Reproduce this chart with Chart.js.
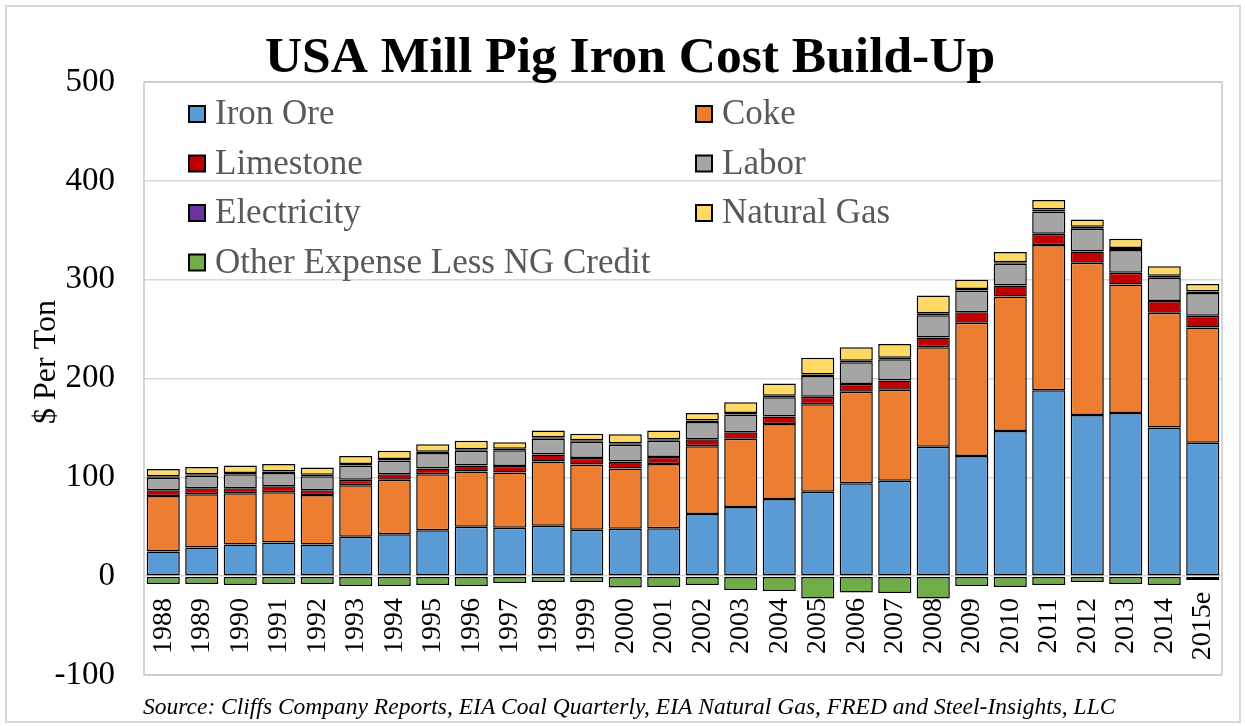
<!DOCTYPE html>
<html>
<head>
<meta charset="utf-8">
<title>USA Mill Pig Iron Cost Build-Up</title>
<script src="https://cdn.jsdelivr.net/npm/chart.js@4/dist/chart.umd.min.js"></script>
<style>
  html, body { margin: 0; padding: 0; background: #fff; }
  #wrap { width: 1245px; height: 726px; }
</style>
</head>
<body>
<div id="wrap"><canvas id="pigIron" width="1245" height="726"></canvas></div>
<script>
// categories
const years = ['1988', '1989', '1990', '1991', '1992', '1993', '1994', '1995', '1996', '1997',
  '1998', '1999', '2000', '2001', '2002', '2003', '2004', '2005', '2006', '2007',
  '2008', '2009', '2010', '2011', '2012', '2013', '2014', '2015e'];

// $ per ton
const ironOre     = [25, 29, 32, 34, 32, 40, 42.5, 46.5, 50, 49, 51, 47, 48, 48.5, 63, 70, 78, 85.5, 94, 96.5, 131, 121.5, 147, 188, 163, 165, 150.5, 135];
const coke        = [56, 54, 52, 51, 50, 52, 55, 56.5, 56, 56, 65, 66, 61, 65, 68.5, 69, 76, 88.5, 92.5, 92, 100.5, 135, 136, 147, 154, 130, 116, 116.5];
const limestone   = [6, 6, 5, 6, 5, 5.5, 5.5, 6, 6, 6.5, 7, 6.5, 7, 7, 7, 6.5, 7.5, 7.5, 8, 9.5, 10, 10.5, 11, 11.5, 11.5, 12, 12, 12];
const labor       = [12.5, 12.5, 14, 13.5, 14, 14.5, 14, 15.5, 15, 16, 16, 16.5, 17, 16.5, 17.5, 18, 19.5, 21, 22, 21.5, 22.5, 22, 22, 22.5, 23, 23, 23.5, 23];
const electricity = [1.5, 1.5, 1.5, 1.5, 1.5, 1.5, 1.5, 1.5, 1.5, 1.5, 1.5, 1.5, 1.5, 1.5, 1.5, 1.5, 1.5, 1.5, 1.5, 1.5, 2, 1.5, 1.5, 2, 2, 2, 2, 1.5];
const naturalGas  = [7.5, 7.5, 7.5, 7.5, 7.5, 8, 8.5, 7.5, 8.5, 6.5, 7, 6.5, 9, 9, 7.5, 11, 12.5, 17, 13.5, 14, 18, 9.5, 10.5, 9.5, 7.5, 9.5, 9.5, 7.5];
const otherLessNG = [-8, -8, -9, -8, -8, -10, -10, -9, -10, -7, -6, -6, -11.5, -11, -9, -14, -15, -22.5, -16.5, -17, -22.5, -10, -11, -9, -6, -8, -9, -4];

// y axis ticks
const yTicks = [-100, 0, 100, 200, 300, 400, 500];

const serif = "'Liberation Serif', 'DejaVu Serif', serif";

function series(label, data, color) {
    return {
        label: label,
        data: data,
        backgroundColor: color,
        borderColor: '#000000',
        borderWidth: 1.5,
        borderSkipped: false,
        barPercentage: 0.86,
        categoryPercentage: 1.0,
        stack: 'cost'
    };
}

// title, axis title, source line, outer frame, plot frame, legend, category labels
const decorations = {
    id: 'decorations',
    beforeDraw(chart) {
        const ctx = chart.ctx;
        ctx.save();
        ctx.strokeStyle = '#D9D9D9';
        ctx.lineWidth = 2;
        ctx.strokeRect(6, 6, 1234, 716);
        ctx.restore();
    },
    beforeDatasetsDraw(chart) {
        const ctx = chart.ctx, a = chart.chartArea;
        ctx.save();
        ctx.strokeStyle = '#C8C8C8';
        ctx.lineWidth = 1.5;
        ctx.strokeRect(a.left, a.top, a.right - a.left, a.bottom - a.top);
        ctx.restore();
    },
    afterDatasetsDraw(chart) {
        const ctx = chart.ctx;
        const x = chart.scales.x;
        ctx.save();
        ctx.fillStyle = '#000000';
        ctx.font = '28px ' + serif;
        ctx.textAlign = 'center';
        ctx.textBaseline = 'middle';
        years.forEach((yr, i) => {
            ctx.save();
            ctx.translate(x.getPixelForValue(i), 626);
            ctx.rotate(-Math.PI / 2);
            ctx.fillText(yr, 0, 0);
            ctx.restore();
        });
        ctx.restore();
    },
    afterDraw(chart) {
        const ctx = chart.ctx;
        ctx.save();
        // title
        ctx.fillStyle = '#000000';
        ctx.textAlign = 'center';
        ctx.textBaseline = 'alphabetic';
        ctx.font = 'bold 51.5px ' + serif;
        ctx.fillText('USA Mill Pig Iron Cost Build-Up', 630, 72);

        // y axis title
        ctx.save();
        ctx.translate(47, 362);
        ctx.rotate(-Math.PI / 2);
        ctx.textBaseline = 'middle';
        ctx.font = '32px ' + serif;
        ctx.fillText('$ Per Ton', 0, 0);
        ctx.restore();

        // source
        ctx.textAlign = 'left';
        ctx.font = 'italic 23.5px ' + serif;
        ctx.fillText('Source: Cliffs Company Reports, EIA Coal Quarterly, EIA Natural Gas, FRED and Steel-Insights, LLC', 143, 714);

        // legend, two columns
        ctx.font = '35px ' + serif;
        ctx.textBaseline = 'middle';
        chart.data.datasets.forEach((ds, i) => {
            const bx = 189 + (i % 2) * 507;
            const cy = 114 + Math.floor(i / 2) * 49.5;
            ctx.fillStyle = ds.backgroundColor;
            ctx.fillRect(bx, cy - 8, 16, 16);
            ctx.strokeStyle = '#000000';
            ctx.lineWidth = 2;
            ctx.strokeRect(bx, cy - 8, 16, 16);
            ctx.fillStyle = '#595959';
            ctx.fillText(ds.label, bx + 26, cy + 1);
        });
        ctx.restore();
    }
};

new Chart(document.getElementById('pigIron'), {
    type: 'bar',
    data: {
        labels: years,
        datasets: [
            series('Iron Ore', ironOre, '#5B9BD5'),
            series('Coke', coke, '#ED7D31'),
            series('Limestone', limestone, '#C00000'),
            series('Labor', labor, '#A5A5A5'),
            series('Electricity', electricity, '#7030A0'),
            series('Natural Gas', naturalGas, '#FFD966'),
            series('Other Expense Less NG Credit', otherLessNG, '#70AD47')
        ]
    },
    options: {
        responsive: false,
        animation: false,
        devicePixelRatio: 1,
        layout: {
            padding: { left: 0, right: 23, top: 82, bottom: 51 }
        },
        plugins: {
            legend: { display: false },
            title: { display: false },
            tooltip: { enabled: false }
        },
        scales: {
            x: {
                display: false,
                stacked: true
            },
            y: {
                stacked: true,
                min: yTicks[0],
                max: yTicks[yTicks.length - 1],
                afterFit(scale) { scale.width = 144; },
                afterBuildTicks(scale) { scale.ticks = yTicks.map(v => ({ value: v })); },
                border: { display: false },
                grid: {
                    color: '#D9D9D9',
                    lineWidth: 1.5,
                    drawTicks: false
                },
                ticks: {
                    padding: 29,
                    color: '#000000',
                    font: { family: serif, size: 33 }
                }
            }
        }
    },
    plugins: [decorations]
});
</script>
</body>
</html>
